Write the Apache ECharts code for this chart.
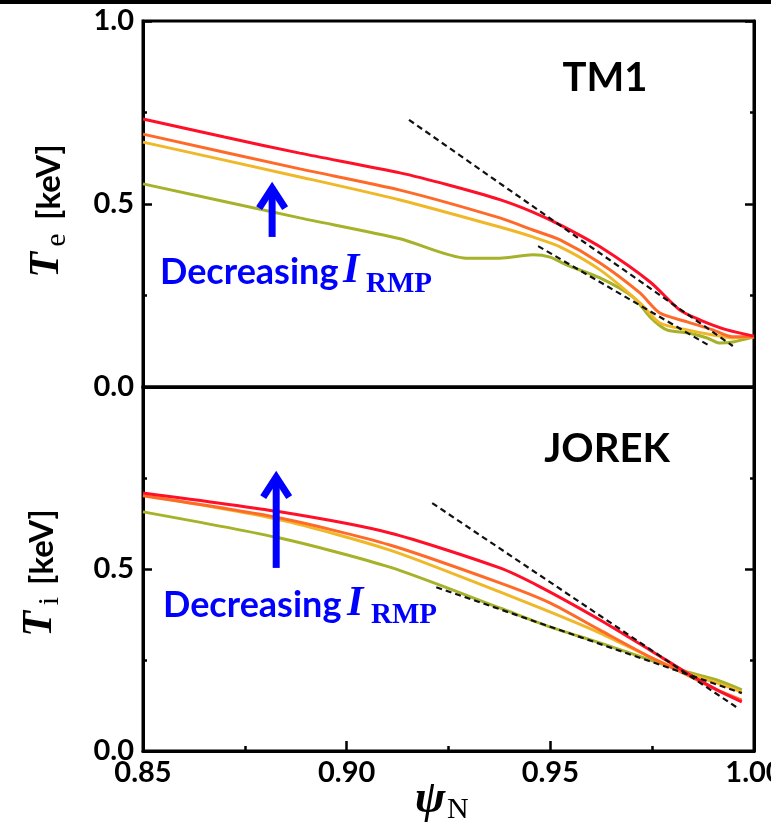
<!DOCTYPE html>
<html><head><meta charset="utf-8">
<script src="https://cdn.jsdelivr.net/npm/echarts@6/dist/echarts.min.js"></script>
<style>html,body{margin:0;padding:0;background:#fff}#c{width:771px;height:826px}</style>
</head><body><div id="c"></div>
<script>
// ---- data (psi_N, T [keV]) ----
const xRange = [0.85, 1.00];
const xInterval = 0.05;
const yRange = [0.0, 1.0];
const yInterval = 0.5;
const caseNames = ['lowest I_RMP', 'low I_RMP', 'high I_RMP', 'highest I_RMP'];
const caseColors = ['#ff1028', '#ff6a28', '#f0b828', '#a6b22a'];

// TM1 (Te)
const teRed = [[0.85,0.732],[0.87,0.683],[0.8885,0.639],[0.9131,0.585],[0.925,0.552],[0.9376,0.512],[0.9457,0.478],[0.9524,0.443],[0.9622,0.383],[0.9745,0.287],[0.9818,0.210],[0.9868,0.183],[0.9934,0.156],[1.0,0.139]];
const teOrange = [[0.85,0.691],[0.8885,0.596],[0.9131,0.538],[0.9376,0.462],[0.9457,0.429],[0.9524,0.402],[0.9622,0.339],[0.972,0.257],[0.9769,0.202],[0.9836,0.178],[0.9899,0.156],[0.9948,0.137],[1.0,0.137]];
const teYellow = [[0.85,0.669],[0.8885,0.574],[0.9131,0.511],[0.9376,0.437],[0.9457,0.410],[0.9524,0.383],[0.9622,0.320],[0.972,0.230],[0.9769,0.175],[0.9836,0.156],[0.9899,0.142],[0.9948,0.134],[1.0,0.137]];
const teGreen = [[0.85,0.555],[0.8885,0.462],[0.9131,0.405],[0.9294,0.352],[0.9376,0.352],[0.9457,0.361],[0.9499,0.355],[0.9541,0.333],[0.9622,0.298],[0.9703,0.246],[0.9745,0.191],[0.9786,0.156],[0.9836,0.148],[0.9885,0.134],[0.9917,0.120],[0.9948,0.123],[1.0,0.137]];
const teFit1 = [[0.9153,0.730],[0.9948,0.112]];
const teFit2 = [[0.947,0.385],[0.9887,0.115]];

// JOREK (Ti)
const tiRed = [[0.85,0.709],[0.8836,0.657],[0.9106,0.599],[0.9376,0.503],[0.9475,0.451],[0.9622,0.360],[0.9745,0.277],[0.9836,0.214],[0.9909,0.168],[0.997,0.135]];
const tiOrange = [[0.85,0.701],[0.8836,0.640],[0.9106,0.566],[0.9376,0.462],[0.9499,0.407],[0.9622,0.332],[0.9745,0.258],[0.9836,0.209],[0.9909,0.168],[0.997,0.140]];
const tiYellow = [[0.85,0.703],[0.8836,0.635],[0.9106,0.552],[0.9376,0.437],[0.9499,0.382],[0.9622,0.324],[0.9745,0.258],[0.9836,0.214],[0.9909,0.187],[0.997,0.162]];
const tiGreen = [[0.85,0.657],[0.8836,0.585],[0.9106,0.505],[0.9376,0.393],[0.9499,0.341],[0.9622,0.297],[0.9745,0.250],[0.9836,0.217],[0.9909,0.195],[0.997,0.168]];
const tiFit1 = [[0.921,0.681],[0.996,0.118]];
const tiFit2 = [[0.922,0.45],[0.997,0.159]];

// annotation arrows (data coords: from -> to)
const arrowTop = [[0.8817,0.41],[0.8817,0.557]];
const arrowBottom = [[0.8827,0.503],[0.8827,0.766]];

const chart = echarts.init(document.getElementById('c'), null, {renderer:'canvas'});
const LBL = {fontFamily:'Lato', fontWeight:'bold', fontSize:29, color:'#000'};

function xAx(grid, labels){
  return {type:'value', gridIndex:grid, min:xRange[0], max:xRange[1], interval:xInterval,
    axisLine:{show:true, onZero:false, lineStyle:{color:'#000', width:3}},
    axisTick:{show:labels, inside:true, length:10, lineStyle:{color:'#000', width:2.5}},
    minorTick:{show:labels, splitNumber:2, length:5, lineStyle:{color:'#000', width:2.5}},
    splitLine:{show:false}, minorSplitLine:{show:false},
    axisLabel:Object.assign({show:labels, margin:7, showMinLabel:true, showMaxLabel:true, hideOverlap:false,
      formatter:v=>v.toFixed(2)}, LBL)};
}
function yAx(grid, pos, labels, hideTop){
  return {type:'value', gridIndex:grid, position:pos, min:yRange[0], max:yRange[1], interval:yInterval,
    axisLine:{show:true, onZero:false, lineStyle:{color:'#000', width:3}},
    axisTick:{show:true, inside:true, length:9, lineStyle:{color:'#000', width:2.5}},
    minorTick:{show:true, splitNumber:2, length:4, lineStyle:{color:'#000', width:2.5}},
    splitLine:{show:false}, minorSplitLine:{show:false},
    axisLabel:Object.assign({show:labels, margin:9,
      formatter:v=>(hideTop && v>0.99) ? '' : v.toFixed(1)}, LBL)};
}
function curve(name, data, color, xi, yi){
  return {name, type:'line', data, xAxisIndex:xi, yAxisIndex:yi, symbol:'none', smooth:0.25,
    lineStyle:{color, width:3}, itemStyle:{color}, z:3, silent:true};
}
function fit(data, xi, yi){
  return {type:'line', data, xAxisIndex:xi, yAxisIndex:yi, symbol:'none',
    lineStyle:{color:'#111', width:2.2, type:[6,4]}, z:5, silent:true};
}

const option = {
  animation:false,
  backgroundColor:'#fff',
  grid:[
    {left:143, top:21, width:611, height:366, show:true, borderColor:'#000', borderWidth:3, backgroundColor:'transparent', containLabel:false, outerBoundsMode:'none'},
    {left:143, top:387, width:611, height:364, show:true, borderColor:'#000', borderWidth:3, backgroundColor:'transparent', containLabel:false, outerBoundsMode:'none'}
  ],
  xAxis:[xAx(0,false), xAx(1,true)],
  yAxis:[yAx(0,'left',true,false), yAx(0,'right',false,false), yAx(1,'left',true,true), yAx(1,'right',false,false)],
  series:[
    curve(caseNames[3], teGreen, caseColors[3], 0, 0),
    curve(caseNames[2], teYellow, caseColors[2], 0, 0),
    curve(caseNames[1], teOrange, caseColors[1], 0, 0),
    curve(caseNames[0], teRed, caseColors[0], 0, 0),
    fit(teFit1, 0, 0), fit(teFit2, 0, 0),
    curve(caseNames[3], tiGreen, caseColors[3], 1, 2),
    curve(caseNames[2], tiYellow, caseColors[2], 1, 2),
    curve(caseNames[1], tiOrange, caseColors[1], 1, 2),
    curve(caseNames[0], tiRed, caseColors[0], 1, 2),
    fit(tiFit1, 1, 2), fit(tiFit2, 1, 2)
  ]
};
chart.setOption(option);

function arrow(pts, xi, yi){
  const a = chart.convertToPixel({xAxisIndex:xi, yAxisIndex:yi}, pts[0]);
  const b = chart.convertToPixel({xAxisIndex:xi, yAxisIndex:yi}, pts[1]);
  const st = {stroke:'#0000ff', lineWidth:7, fill:null, lineJoin:'miter', lineCap:'butt'};
  return [
    {type:'line', z:50, shape:{x1:a[0], y1:a[1], x2:b[0], y2:b[1]+5}, style:st},
    {type:'polyline', z:50, shape:{points:[[b[0]-13,b[1]+25],[b[0],b[1]+5],[b[0]+13,b[1]+25]]}, style:st}
  ];
}
function txt(text, x, y, font, color, align){
  return {type:'text', z:60, x, y, style:{text, font, fill:color||'#000', align:align||'left', verticalAlign:'middle'}};
}
const SANS = 'bold 36px Lato';
const g = [
  {type:'rect', z:60, shape:{x:0, y:0, width:771, height:4}, style:{fill:'#000'}},
  txt('TM1', 605, 78, 'bold 40px Lato', '#000', 'center'),
  txt('JOREK', 607, 449, 'bold 40px Lato', '#000', 'center'),
  txt('Decreasing', 160, 272, SANS, '#0000ff'),
  txt('I', 343, 271, 'italic bold 42px "Liberation Serif"', '#0000ff'),
  txt('RMP', 366, 285, 'bold 29px "Liberation Serif"', '#0000ff'),
  txt('Decreasing', 163, 605, SANS, '#0000ff'),
  txt('I', 347, 604, 'italic bold 42px "Liberation Serif"', '#0000ff'),
  txt('RMP', 371, 616, 'bold 29px "Liberation Serif"', '#0000ff'),
  // y-axis names (rotated)
  {type:'text', z:60, x:47, y:265, rotation:Math.PI/2, style:{text:'T', font:'italic bold 42px "Liberation Serif"', fill:'#000', align:'center', verticalAlign:'middle'}},
  {type:'text', z:60, x:57, y:240, rotation:Math.PI/2, style:{text:'e', font:'30px "Liberation Serif"', fill:'#000', align:'center', verticalAlign:'middle'}},
  {type:'text', z:60, x:49, y:182, rotation:Math.PI/2, style:{text:'[keV]', font:'bold 33px Lato', fill:'#000', align:'center', verticalAlign:'middle'}},
  {type:'text', z:60, x:40, y:624, rotation:Math.PI/2, style:{text:'T', font:'italic bold 42px "Liberation Serif"', fill:'#000', align:'center', verticalAlign:'middle'}},
  {type:'text', z:60, x:50, y:601, rotation:Math.PI/2, style:{text:'i', font:'30px "Liberation Serif"', fill:'#000', align:'center', verticalAlign:'middle'}},
  {type:'text', z:60, x:42, y:547, rotation:Math.PI/2, style:{text:'[keV]', font:'bold 33px Lato', fill:'#000', align:'center', verticalAlign:'middle'}},
  // x-axis name
  {type:'text', z:60, x:430, y:800, style:{text:'ψ', font:'italic bold 46px "Liberation Serif"', fill:'#000', align:'center', verticalAlign:'middle'}},
  {type:'text', z:60, x:447, y:810, style:{text:'N', font:'30px "Liberation Serif"', fill:'#000', align:'left', verticalAlign:'middle'}}
].concat(arrow(arrowTop,0,0), arrow(arrowBottom,1,2));
chart.setOption({graphic:g});
</script></body></html>
